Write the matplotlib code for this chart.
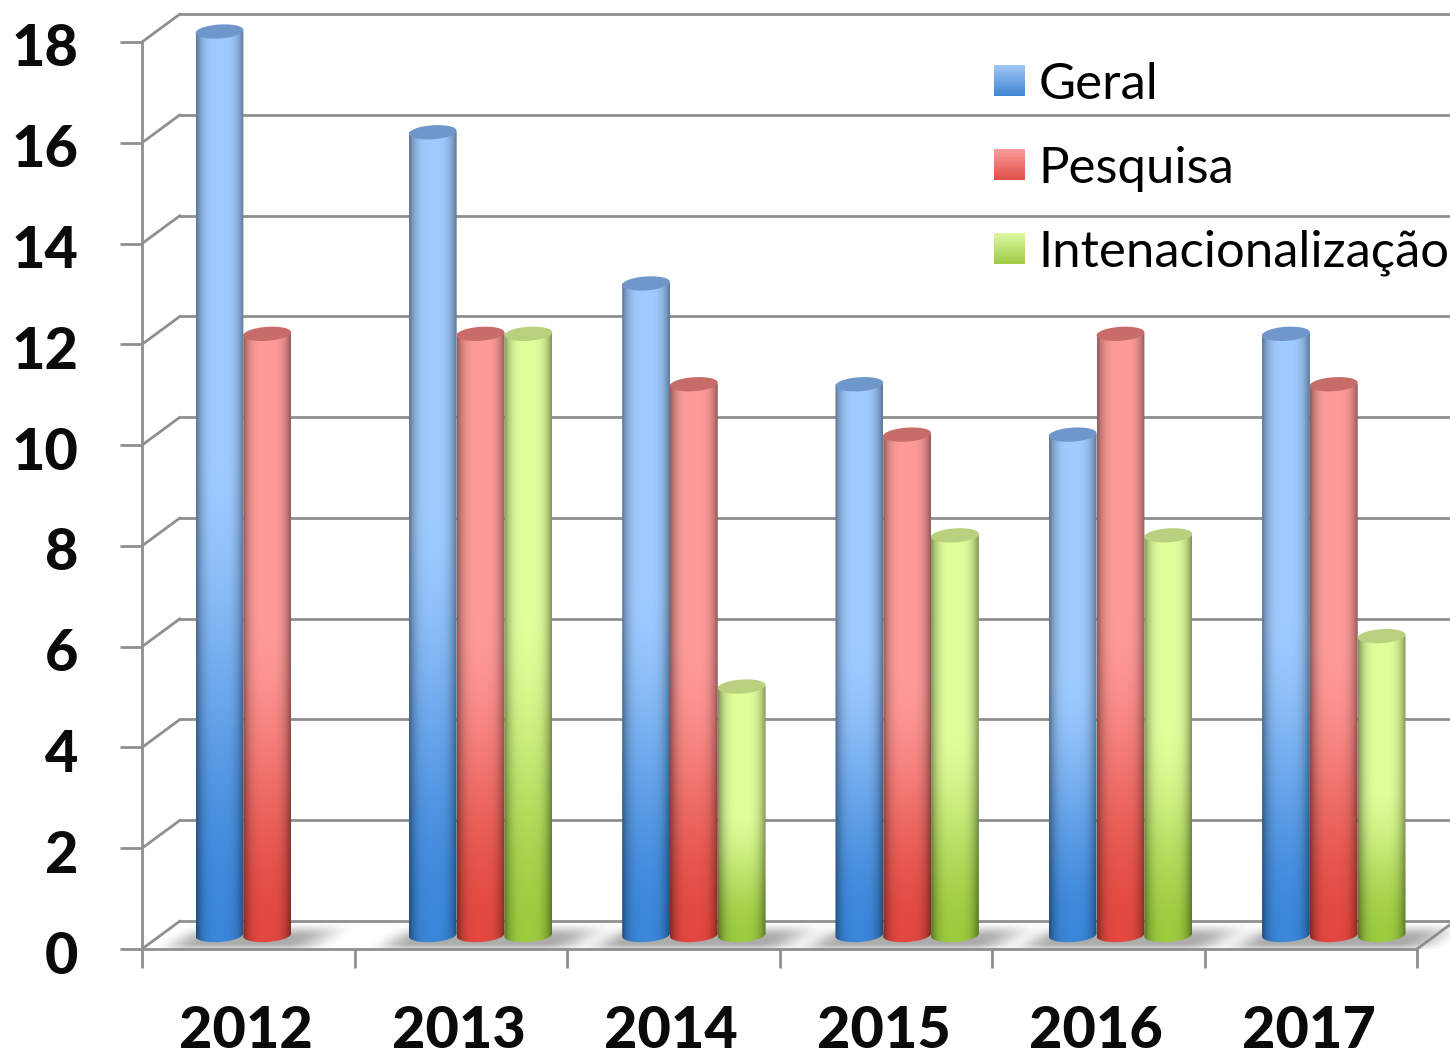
import numpy as np
import matplotlib
matplotlib.use('Agg')
import matplotlib.pyplot as plt
from matplotlib.legend_handler import HandlerBase
from matplotlib.patches import Polygon, Rectangle
from matplotlib.transforms import ScaledTranslation

years = ['2012', '2013', '2014', '2015', '2016', '2017']
y_ticks = [0, 2, 4, 6, 8, 10, 12, 14, 16, 18]
series_names = ['Geral', 'Pesquisa', 'Intenacionalização']
geral = [18, 16, 13, 11, 10, 12]
pesquisa = [12, 12, 11, 10, 12, 11]
intern = [0, 12, 5, 8, 8, 6]

# top colour, bottom colour, cap colour, legend top, legend bottom
blue = ('#9fcbff', '#3a86da', '#6f97cc', '#9cc4f5', '#3f86d2')
red = ('#ff9c9a', '#e2483f', '#c86c6a', '#fb9a98', '#de5048')
green = ('#e2ff9c', '#9ccb3e', '#b9d07e', '#dcf8a0', '#a0cc48')
line_col = '#8f8f8f'
text_col = '#0a0a0a'

W, H = 1450, 1053
left, right, top, bottom = 142, 1417, 42, 949
px_x = (right - left) / len(years)
px_y = (bottom - top) / 18

# chart depth, in data units
depth_x = 38 / px_x
depth_y = 28 / px_y
bar_w = 47.8 / px_x
group_stretch = 1.0038  # groups sit a hair wider apart than the ticks

plt.rcParams['font.family'] = ['Lato', 'DejaVu Sans']

fig = plt.figure(figsize=(W / 100, H / 100), dpi=100)
ax = fig.add_axes([left / W, 1 - bottom / H, (right - left) / W, (bottom - top) / H])


def hex_rgb(c):
    return np.array(matplotlib.colors.to_rgb(c))


def smooth(t):
    t = np.clip(t, 0, 1)
    return t * t * (3 - 2 * t)


def arc(cx, cy, t):
    # ellipse on the floor plane, a bit tilted up on the right
    a, b, tilt = bar_w / 2, 7 / px_y, 1.5 / px_y
    return np.column_stack([cx + a * np.cos(t), cy + b * np.sin(t) + tilt * np.cos(t)])


def draw_cylinder(cx, val, cols, z):
    base = depth_y / 2
    y_top = val + base - 3.5 / px_y
    pad = 9 / px_y
    u = np.linspace(-1, 1, 60)
    v = np.linspace(1, 0, 240)
    uu, vv = np.meshgrid(u, v)
    mix = smooth(vv / 0.55)[..., None]
    img = hex_rgb(cols[1]) * (1 - mix) + hex_rgb(cols[0]) * mix
    shade = 1 - 0.42 * np.abs(uu) ** 3.5
    img = img * shade[..., None]
    im = ax.imshow(img, extent=(cx - bar_w / 2, cx + bar_w / 2, base - pad, y_top),
                   aspect='auto', interpolation='bilinear', zorder=z)
    outline = np.vstack([arc(cx, base, np.linspace(np.pi, 2 * np.pi, 40)),
                         arc(cx, y_top, np.linspace(0, np.pi, 40))])
    clip = Polygon(outline, closed=True, transform=ax.transData)
    im.set_clip_box(fig.bbox)
    im.set_clip_path(clip)
    cap = arc(cx, y_top, np.linspace(0, 2 * np.pi, 80))
    ax.add_patch(Polygon(cap, closed=True, fc=cols[2], ec='none', zorder=z + 0.1, clip_on=False))


def draw_shadow(x0, x1):
    # soft grey pool on the floor around one group of bars
    xs = np.linspace(x0 - 50 / px_x, x1 + 85 / px_x, 300)
    d = np.linspace(1, 0, 40)
    xx, dd = np.meshgrid(xs, d)
    xr = xx - dd * depth_x
    fall = smooth((xr - (x0 - 48 / px_x)) / (44 / px_x)) * (1 - smooth((xr - (x1 - 12 / px_x)) / (54 / px_x)))
    vert = smooth((1 - dd) / 0.6) * (0.55 + 0.45 * smooth(dd / 0.2))
    rgba = np.zeros(xx.shape + (4,))
    rgba[..., :3] = 0.55
    rgba[..., 3] = 0.72 * fall * vert
    im = ax.imshow(rgba, extent=(xs[0], xs[-1], 0, depth_y), aspect='auto',
                   interpolation='bilinear', zorder=1.5)
    im.set_clip_box(fig.bbox)


class GradientHandle(HandlerBase):
    def create_artists(self, legend, orig_handle, xdescent, ydescent, width, height, fontsize, trans):
        n = 24
        out = []
        for i in range(n):
            t = i / (n - 1)
            c = hex_rgb(orig_handle[4]) * (1 - t) + hex_rgb(orig_handle[3]) * t
            out.append(Rectangle((-xdescent, -ydescent + height * i / n), width, height / n + 0.3,
                                 fc=c, ec='none', transform=trans))
        return out


# back wall and side wall lines
for v in y_ticks:
    ax.plot([-0.5, -0.5 + depth_x], [v, v + depth_y], color=line_col, lw=2, clip_on=False, zorder=1,
            solid_capstyle='round')
    ax.plot([-0.5 + depth_x, 5.5 + depth_x], [v + depth_y, v + depth_y], color=line_col, lw=2,
            clip_on=False, zorder=1)
ax.plot([5.5, 5.5 + depth_x], [0, depth_y], color=line_col, lw=2, clip_on=False, zorder=1)

series = [(geral, blue), (pesquisa, red), (intern, green)]
z = 5
for i in range(len(years)):
    n_bars = sum(1 for vals, _ in series if vals[i] > 0)
    cx = i * group_stretch + depth_x / 2
    x_start = cx - 1.5 * bar_w
    draw_shadow(x_start, x_start + n_bars * bar_w)
    for j, (vals, cols) in enumerate(series):
        if vals[i] > 0:
            draw_cylinder(x_start + (j + 0.5) * bar_w, vals[i], cols, z)
            z += 1

ax.set_xlim(-0.5, 5.5)
ax.set_ylim(0, 18)
ax.patch.set_visible(False)
ax.spines['top'].set_visible(False)
ax.spines['right'].set_visible(False)
for s in ['left', 'bottom']:
    ax.spines[s].set_color(line_col)
    ax.spines[s].set_linewidth(2)

ax.set_yticks(y_ticks)
ax.set_yticklabels([str(v) for v in y_ticks], fontsize=41.5, fontweight=900, color=text_col)
ax.set_xticks(range(len(years)))
ax.set_xticklabels(years, fontsize=41.5, fontweight=900, color=text_col)
ax.set_xticks(np.arange(-0.5, 6, 1), minor=True)
ax.tick_params(axis='y', length=16, width=2, color=line_col, pad=30)
ax.tick_params(axis='x', which='major', length=0, pad=40)
ax.tick_params(axis='x', which='minor', length=14, width=2, color=line_col)

# y labels sit slightly under their ticks, year labels a little left of centre
for lab in ax.get_yticklabels():
    lab.set_transform(lab.get_transform() + ScaledTranslation(0, -3 / 100, fig.dpi_scale_trans))
for lab in ax.get_xticklabels():
    lab.set_transform(lab.get_transform() + ScaledTranslation(-2 / 100, 0, fig.dpi_scale_trans))

handles = [blue, red, green]
leg = ax.legend(handles, series_names, handler_map={tuple: GradientHandle()},
                loc='upper left', bbox_to_anchor=(994 / W, 1 - 62 / H), bbox_transform=fig.transFigure,
                frameon=False, fontsize=36.6, borderpad=0, borderaxespad=0,
                handlelength=0.61, handleheight=0.55, handletextpad=0.27, labelspacing=0.74)
leg.set_zorder(50)

plt.savefig('out.png', dpi=100)
